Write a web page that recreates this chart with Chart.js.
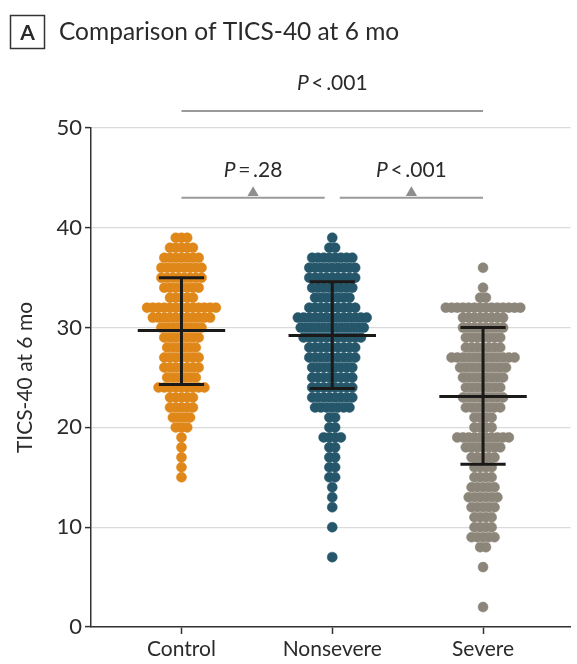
<!DOCTYPE html>
<html>
<head>
<meta charset="utf-8">
<script src="https://cdn.jsdelivr.net/npm/chart.js@4.4.1/dist/chart.umd.min.js"></script>
<style>
  body { margin: 0; background: #fff; }
  canvas { display: block; }
</style>
</head>
<body>
<canvas id="grafico" width="577" height="664"></canvas>
<script>
const grupos = ['Control', 'Nonsevere', 'Severe'];
const cores = ['#df8718', '#25566a', '#8c8579'];

// pontuacao TICS-40 de cada linha do enxame e quantos pacientes tem nela
const controlScores = [39, 38, 37, 36, 35, 34, 33, 32, 31, 30, 29, 28, 27, 26, 25, 24, 23, 22, 21, 20, 19, 18, 17, 16, 15];
const controlCounts = [3, 5, 7, 8, 8, 7, 5, 13, 11, 8, 7, 6, 7, 7, 6, 9, 5, 5, 4, 3, 1, 1, 1, 1, 1];

const nonsevereScores = [39, 38, 37, 36, 35, 34, 33, 32, 31, 30, 29, 28, 27, 26, 25, 24, 23, 22, 21, 20, 19, 18, 17, 16, 15, 14, 13, 12, 10, 7];
const nonsevereCounts = [1, 2, 8, 9, 9, 8, 7, 9, 13, 12, 11, 9, 9, 8, 8, 8, 8, 7, 2, 2, 4, 2, 2, 2, 2, 1, 1, 1, 1, 1];

const severeScores = [36, 34, 33, 32, 31, 30, 29, 28, 27, 26, 25, 24, 23, 22, 21, 20, 19, 18, 17, 16, 15, 14, 13, 12, 11, 10, 9, 8, 6, 2];
const severeCounts = [1, 1, 2, 14, 8, 8, 7, 7, 12, 9, 8, 7, 8, 7, 4, 4, 10, 7, 5, 4, 4, 5, 6, 5, 4, 4, 5, 2, 1, 1];

// media e media +/- DP
const medias = [29.7, 29.2, 23.1];
const dpSuperior = [35.0, 34.6, 30.0];
const dpInferior = [24.3, 23.9, 16.3];

const yTicks = [0, 10, 20, 30, 40, 50];

// comparacoes entre grupos (colchetes acima)
const compDe = [0, 1.05, 0];
const compAte = [0.95, 2, 2];
const compY = [43, 43, 51.7];
const compTexto = ['\u2009=\u2009.28', '\u2009<\u2009.001', '\u2009<\u2009.001'];

const passo = 0.038; // distancia horizontal entre bolinhas
const fonte = 'Lato';

function enxame(scores, counts, idx) {
  const pts = [];
  scores.forEach((s, i) => {
    const n = counts[i];
    for (let k = 0; k < n; k++) {
      pts.push({ x: idx + (k - (n - 1) / 2) * passo, y: s });
    }
  });
  return pts;
}

function segmento(x1, y1, x2, y2, cor, largura) {
  return {
    data: [{ x: x1, y: y1 }, { x: x2, y: y2 }],
    showLine: true,
    borderColor: cor,
    borderWidth: largura,
    borderCapStyle: 'butt',
    pointRadius: 0,
    clip: false,
    order: 0
  };
}

const datasets = [];
const enxames = [
  enxame(controlScores, controlCounts, 0),
  enxame(nonsevereScores, nonsevereCounts, 1),
  enxame(severeScores, severeCounts, 2)
];
enxames.forEach((pts, i) => {
  datasets.push({
    data: pts,
    backgroundColor: cores[i],
    borderColor: cores[i],
    borderWidth: 0.5,
    pointRadius: 5,
    order: 2
  });
});

// barras de media e DP
grupos.forEach((g, i) => {
  datasets.push(segmento(i, dpInferior[i], i, dpSuperior[i], '#1c1a18', 3));
  datasets.push(segmento(i - 0.29, medias[i], i + 0.29, medias[i], '#1c1a18', 3));
  datasets.push(segmento(i - 0.15, dpSuperior[i], i + 0.15, dpSuperior[i], '#1c1a18', 3));
  datasets.push(segmento(i - 0.15, dpInferior[i], i + 0.15, dpInferior[i], '#1c1a18', 3));
});

// colchetes das comparacoes
compTexto.forEach((t, i) => {
  datasets.push(segmento(compDe[i], compY[i], compAte[i], compY[i], '#9a9a9a', 2));
});
datasets.push({
  data: compTexto.map((t, i) => ({ x: (compDe[i] + compAte[i]) / 2, y: compY[i] + 0.5 })),
  pointStyle: 'triangle',
  pointRadius: 6.5,
  backgroundColor: '#8e8e8e',
  borderColor: '#8e8e8e',
  borderWidth: 0,
  clip: false,
  order: 0
});

const textos = {
  id: 'textos',
  afterDatasetsDraw(chart) {
    const { ctx, scales: { x, y } } = chart;
    ctx.save();
    ctx.fillStyle = '#2a2a2a';
    ctx.textBaseline = 'alphabetic';
    compTexto.forEach((t, i) => {
      const cx = x.getPixelForValue((compDe[i] + compAte[i]) / 2);
      const cy = y.getPixelForValue(compY[i]) - 21;
      ctx.font = 'italic 21px ' + fonte;
      const wP = ctx.measureText('P').width;
      ctx.font = '21px ' + fonte;
      const wR = ctx.measureText(t).width;
      const x0 = cx - (wP + wR) / 2;
      ctx.font = 'italic 21px ' + fonte;
      ctx.fillText('P', x0, cy);
      ctx.font = '21px ' + fonte;
      ctx.fillText(t, x0 + wP, cy);
    });

    // titulo do painel
    ctx.strokeStyle = '#333';
    ctx.lineWidth = 1.5;
    ctx.strokeRect(10.5, 15.5, 34, 33);
    ctx.font = 'bold 21px ' + fonte;
    ctx.textAlign = 'center';
    ctx.fillText('A', 27.5, 40);
    ctx.textAlign = 'left';
    ctx.font = '24.5px ' + fonte;
    ctx.fillText('Comparison of TICS-40 at 6 mo', 59, 40);
    ctx.restore();
  }
};

const ctx = document.getElementById('grafico').getContext('2d');

const grafico = new Chart(ctx, {
  type: 'scatter',
  data: { datasets },
  options: {
    responsive: false,
    animation: false,
    layout: { padding: { top: 128, right: 0, left: 0, bottom: 0 } },
    plugins: {
      legend: { display: false },
      tooltip: { enabled: false }
    },
    scales: {
      x: {
        type: 'linear',
        min: -0.6,
        max: 2.58,
        afterBuildTicks: s => { s.ticks = [0, 1, 2].map(v => ({ value: v })); },
        afterFit: s => { s.height = 37; },
        ticks: {
          callback: v => grupos[v],
          font: { family: fonte, size: 21 },
          color: '#2a2a2a',
          padding: 3,
          maxRotation: 0
        },
        grid: { drawOnChartArea: false, tickLength: 7, tickColor: '#333', tickWidth: 1.5 },
        border: { color: '#333', width: 1.5 }
      },
      y: {
        min: 0,
        max: 50,
        afterBuildTicks: s => { s.ticks = yTicks.map(v => ({ value: v })); },
        afterFit: s => { s.width = 91; },
        ticks: {
          font: { family: fonte, size: 22 },
          color: '#2a2a2a',
          padding: 3
        },
        grid: { color: '#dadada', lineWidth: 1.2, tickColor: '#333', tickLength: 6, tickWidth: 1.5 },
        border: { color: '#333', width: 1.5 },
        title: {
          display: true,
          text: 'TICS-40 at 6 mo',
          font: { family: fonte, size: 21 },
          color: '#2a2a2a',
          padding: { top: 13, bottom: 0 }
        }
      }
    }
  },
  plugins: [textos]
});
</script>
</body>
</html>
